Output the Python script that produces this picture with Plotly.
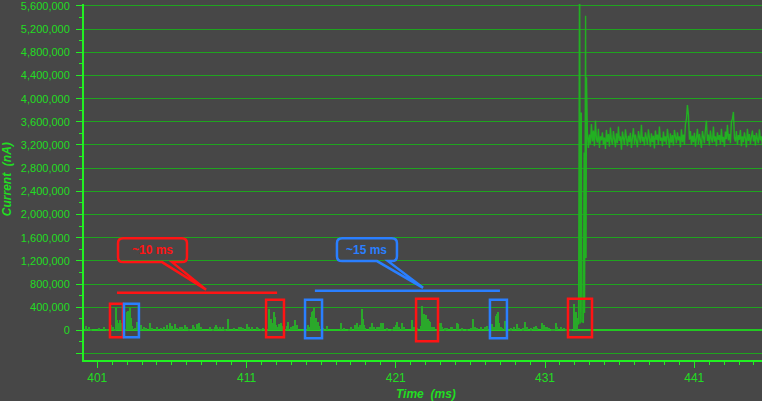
import plotly.graph_objects as go

# ---------------- data ----------------
# small current spikes on the idle baseline: time (ms) and height (thousand nA)
spike_t = [
    400.24, 400.44, 400.60, 401.11, 401.45, 401.63, 401.90, 402.05, 402.19, 402.27,
    402.34, 402.43, 402.50, 402.57, 402.63, 402.72, 402.88, 403.01, 403.08, 403.17,
    403.24, 403.35, 403.51, 403.64, 403.79, 403.95, 404.13, 404.24, 404.53, 404.69,
    405.02, 405.25, 405.47, 405.65, 405.87, 405.99, 406.19, 406.36, 406.54, 406.70,
    406.86, 406.99, 407.15, 407.39, 407.48, 407.70, 407.82, 407.93, 408.55, 408.73,
    408.87, 408.96, 409.04, 409.22, 409.45, 409.58, 409.78, 410.16, 410.50, 410.65,
    410.77, 411.01, 411.17, 411.39, 411.68, 411.77, 411.95, 412.13, 412.51, 412.58,
    412.66, 412.73, 412.82, 412.89, 412.96, 413.06, 413.18, 413.29, 413.38,
    413.69, 413.78, 413.96, 414.14, 414.27, 414.36, 415.14, 415.26, 415.34, 415.41,
    415.48, 415.54, 415.64, 415.71, 415.79, 415.88, 416.15, 416.38, 417.35, 417.53,
    417.87, 417.98, 418.25, 418.39, 418.49, 418.61, 418.72, 418.81, 418.88, 418.96,
    419.28, 419.43, 419.55, 419.73, 419.90, 420.03, 420.13,
    420.44, 420.77, 420.89, 421.02, 421.11, 421.22, 421.44, 421.56, 422.09, 422.23,
    422.45, 422.68, 422.76, 422.83, 422.90, 422.96, 423.03, 423.10, 423.17, 423.23,
    423.30, 423.43, 423.57, 423.90, 424.02, 424.12, 424.28, 424.46, 424.69, 424.79,
    425.09, 425.18, 425.46, 425.80, 426.03, 426.20, 426.31, 426.47, 426.70,
    426.98, 427.14, 427.45, 427.59, 427.72, 427.79, 427.86, 427.92, 428.04, 428.14,
    428.31, 428.48, 428.71, 428.93, 429.15, 429.29, 429.55, 429.69, 429.82, 430.05,
    430.27, 430.38, 430.49, 430.83, 430.94, 431.05, 431.16, 431.27, 431.45, 431.61,
    431.72, 431.82, 432.05, 432.27, 432.39, 432.73, 432.98, 433.10, 433.17,
]
spike_k = [
    74, 51, 28, 46, 51, 28, 91, 63, 23, 387,
    176, 131, 176, 119, 102, 63, 28, 313, 330, 387,
    216, 74, 46, 148, 46, 91, 63, 46, 119, 40,
    63, 46, 51, 85, 119, 74, 108, 46, 63, 63,
    91, 51, 28, 85, 63, 108, 131, 63, 57, 28,
    51, 97, 63, 63, 51, 28, 188, 40, 51, 63,
    46, 108, 51, 63, 63, 40, 28, 46, 364, 131,
    188, 119, 313, 233, 91, 63, 102, 119, 74,
    74, 142, 63, 74, 176, 91, 97, 63, 233, 313,
    336, 387, 205, 85, 148, 74, 34, 80, 119, 46,
    28, 63, 91, 131, 63, 91, 364, 188, 97, 46,
    63, 119, 63, 51, 51, 119, 131,
    34, 28, 51, 91, 148, 63, 131, 51, 176, 63,
    34, 74, 415, 205, 290, 176, 262, 165, 188, 165,
    148, 63, 51, 119, 131, 63, 34, 46, 51, 63,
    131, 102, 34, 28, 46, 188, 63, 46, 51,
    63, 74, 102, 51, 245, 279, 324, 119, 63, 46,
    159, 46, 34, 51, 108, 46, 34, 142, 63, 34,
    51, 74, 46, 119, 91, 51, 51, 40, 23, 28,
    119, 63, 63, 46, 17, 17, 450, 313, 205,
]

# start-up transient: time (ms) and current (thousand nA)
trans_t = [433.20, 433.25, 433.32, 433.36, 433.43, 433.47, 433.57, 433.62, 433.65,
           433.72, 433.75, 433.78, 433.84]
trans_k = [150, 100, 7000, 120, 3760, 150, 140, 3070, 300, 5430, 1250, 4370, 3400]

# active plateau: first sample time, sample interval (ms), values (thousand nA)
plateau_t0 = 433.91
plateau_dt = 0.067
plateau_k = [
    3150, 3380, 3220, 3560, 3260, 3450, 3180, 3620, 3300, 3240, 3480,
    3150, 3350, 3280, 3420, 3200, 3330, 3130, 3460, 3250, 3390, 3170, 3500, 3280, 3210,
    3440, 3300, 3160, 3400, 3230, 3520, 3270, 3350, 3120, 3430, 3290, 3200, 3470, 3310,
    3180, 3360, 3250, 3410, 3150, 3330, 3490, 3220, 3380, 3270, 3160, 3440, 3300, 3230,
    3550, 3260, 3340, 3190, 3420, 3280, 3210, 3470, 3320, 3170, 3400, 3250, 3360, 3140,
    3450, 3290, 3380, 3200, 3520, 3270, 3330, 3180, 3430, 3260, 3350, 3220, 3480, 3300,
    3150, 3400, 3240, 3370, 3190, 3460, 3310, 3230, 3420, 3280, 3350, 3160, 3470, 3250,
    3380, 3200, 3560, 3640, 3890, 3720, 3290, 3440, 3200, 3360, 3250, 3410, 3170, 3330,
    3480, 3220, 3390, 3280, 3150, 3440, 3310, 3230, 3460, 3620, 3270, 3380, 3190, 3450,
    3300, 3240, 3520, 3260, 3350, 3180, 3420, 3290, 3370, 3210, 3480, 3250, 3340, 3170,
    3430, 3300, 3550, 3280, 3390, 3230, 3600, 3650, 3770, 3320, 3260, 3440, 3200, 3370,
    3290, 3460, 3180, 3350, 3250, 3420, 3310, 3160, 3480, 3270, 3390, 3220, 3340, 3450,
    3260, 3370, 3190, 3410, 3300, 3230, 3470, 3280, 3350, 3200, 3420, 3310, 3260, 3380,
]

y_tick_vals = [-400000, 0, 400000, 800000, 1200000, 1600000, 2000000, 2400000,
               2800000, 3200000, 3600000, 4000000, 4400000, 4800000, 5200000, 5600000]
y_tick_text = ["", "0", "400,000", "800,000", "1,200,000", "1,600,000", "2,000,000",
               "2,400,000", "2,800,000", "3,200,000", "3,600,000", "4,000,000",
               "4,400,000", "4,800,000", "5,200,000", "5,600,000"]

# highlighted bursts (t0, t1, current low, current high)
red_boxes = [(401.85, 402.72, -120000, 461000), (412.31, 413.51, -120000, 529000),
             (422.36, 423.83, -188000, 546000), (432.54, 434.15, -120000, 546000)]
blue_boxes = [(402.79, 403.79, -120000, 461000), (414.92, 416.06, -137000, 529000),
              (427.31, 428.45, -137000, 529000)]

# ---------------- styling ----------------
BG = "#474747"
GRID = "#1fa41f"
AXIS = "#22f022"
TXT = "#22dd22"
RED = "#ff1414"
BLUE = "#2a7fff"
FONT = "Liberation Sans"

fig = go.Figure()
fig.add_trace(go.Bar(x=spike_t, y=[k * 1000 for k in spike_k], width=0.08,
                     marker=dict(color="#2aa82a", line=dict(width=0)),
                     showlegend=False, hoverinfo="x+y"))
plateau_t = [plateau_t0 + i * plateau_dt for i in range(len(plateau_k))]
fig.add_trace(go.Scatter(x=trans_t + plateau_t,
                         y=[k * 1000 for k in trans_k + plateau_k],
                         mode="lines", line=dict(color="#22b022", width=1.4),
                         showlegend=False))

shapes = []
for (a, b, lo, hi) in red_boxes:
    shapes.append(dict(type="rect", xref="x", yref="y", x0=a, x1=b, y0=lo, y1=hi,
                       line=dict(color=RED, width=2.5), layer="above"))
for (a, b, lo, hi) in blue_boxes:
    shapes.append(dict(type="rect", xref="x", yref="y", x0=a, x1=b, y0=lo, y1=hi,
                       line=dict(color=BLUE, width=2.5), layer="above"))

# span lines
shapes.append(dict(type="line", xref="x", yref="y", x0=402.32, x1=413.05,
                   y0=649000, y1=649000, line=dict(color=RED, width=2.5)))
shapes.append(dict(type="line", xref="x", yref="y", x0=415.58, x1=427.98,
                   y0=683000, y1=683000, line=dict(color=BLUE, width=2.5)))


def callout(x0, x1, y0, y1, b0, b1, tx, ty, rx=0.35, ry=85000):
    return (f"M {x0+rx},{y1} L {x1-rx},{y1} Q {x1},{y1} {x1},{y1-ry} "
            f"L {x1},{y0+ry} Q {x1},{y0} {x1-rx},{y0} L {b1},{y0} L {tx},{ty} "
            f"L {b0},{y0} L {x0+rx},{y0} Q {x0},{y0} {x0},{y0+ry} "
            f"L {x0},{y1-ry} Q {x0},{y1} {x0+rx},{y1} Z")


shapes.append(dict(type="path", xref="x", yref="y",
                   path=callout(402.39, 407.01, 1178000, 1588000, 405.34, 406.01, 408.29, 700000),
                   line=dict(color=RED, width=2.5)))
shapes.append(dict(type="path", xref="x", yref="y",
                   path=callout(417.06, 421.08, 1195000, 1588000, 419.74, 420.48, 422.83, 734000),
                   line=dict(color=BLUE, width=2.5)))

annotations = [
    dict(x=404.67, y=1383000, xref="x", yref="y", text="<b>~10 ms</b>", showarrow=False,
         font=dict(family=FONT, size=12, color=RED)),
    dict(x=419.07, y=1391000, xref="x", yref="y", text="<b>~15 ms</b>", showarrow=False,
         font=dict(family=FONT, size=12, color=BLUE)),
    dict(x=0.5044, y=-0.0944, xref="paper", yref="paper", xanchor="center", yanchor="middle",
         text="<b><i>Time  (ms)</i></b>",
         showarrow=False, font=dict(family=FONT, size=12, color=TXT)),
    dict(x=-0.1135, y=0.508, xref="paper", yref="paper", xanchor="center", yanchor="middle",
         text="<b><i>Current  (nA)</i></b>",
         showarrow=False, textangle=-90, font=dict(family=FONT, size=12, color=TXT)),
]

fig.update_layout(
    width=762, height=401,
    margin=dict(l=84, r=0, t=0, b=41),
    paper_bgcolor=BG, plot_bgcolor=BG,
    font=dict(family=FONT, size=11, color=TXT),
    shapes=shapes, annotations=annotations,
    bargap=0, barmode="overlay",
    xaxis=dict(range=[400.11, 445.54], tickmode="linear", tick0=401, dtick=10,
               showgrid=False, zeroline=False, showline=True, linecolor=AXIS, linewidth=2,
               ticks="outside", ticklen=6, tickwidth=1, tickcolor=AXIS,
               tickfont=dict(family=FONT, size=12, color=TXT),
               minor=dict(dtick=1, tick0=401, ticks="outside", ticklen=3, tickcolor=AXIS,
                          showgrid=False)),
    yaxis=dict(range=[-512000, 5634000], tickmode="array", tickvals=y_tick_vals,
               ticktext=y_tick_text, showgrid=True, gridcolor=GRID, gridwidth=1,
               zeroline=True, zerolinecolor="#22c822", zerolinewidth=1.5,
               showline=True, linecolor=AXIS, linewidth=2,
               ticks="outside", ticklen=6, tickwidth=1, tickcolor=AXIS,
               ticklabelstandoff=4, ticklabeloverflow="allow",
               tickfont=dict(family=FONT, size=11, color=TXT),
               minor=dict(dtick=200000, tick0=0, ticks="outside", ticklen=3,
                          tickcolor=AXIS, showgrid=False)),
)

fig.write_html("out.html", config={"displayModeBar": False},
               post_script="document.body.style.margin='0';document.body.style.background='#474747';")
